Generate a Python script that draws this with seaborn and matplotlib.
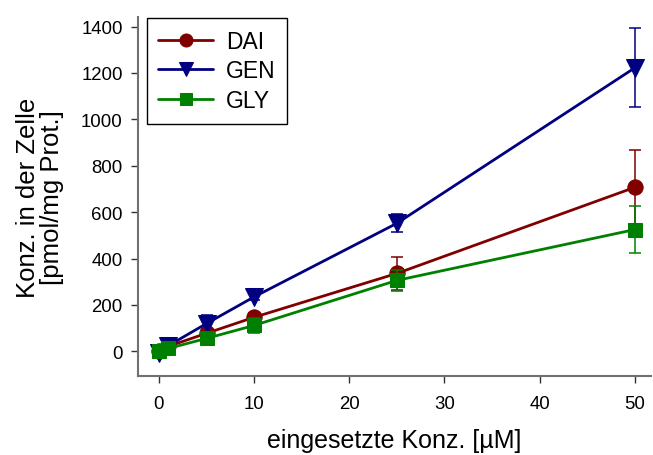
import matplotlib
matplotlib.use("Agg")
import matplotlib.pyplot as plt
import seaborn as sns
import pandas as pd
import numpy as np

# ---- data ----
conc = [0, 1, 5, 10, 25, 50]
series_names = ["DAI", "GEN", "GLY"]
dai_values = [0, 22, 78, 147, 336, 707]
dai_err = [5, 8, 15, 20, 72, 160]
gen_values = [-5, 25, 120, 235, 552, 1222]
gen_err = [8, 8, 35, 15, 38, 170]
gly_values = [0, 13, 56, 112, 306, 525]
gly_err = [5, 6, 12, 32, 45, 100]

x_ticks = [0, 10, 20, 30, 40, 50]
y_ticks = [0, 200, 400, 600, 800, 1000, 1200, 1400]

sns.set_theme(style="ticks")
plt.rcParams["font.family"] = ["Liberation Sans", "DejaVu Sans"]
plt.rcParams["text.color"] = "black"
plt.rcParams["axes.labelcolor"] = "black"
plt.rcParams["xtick.color"] = "#333333"
plt.rcParams["ytick.color"] = "#333333"
plt.rcParams["xtick.labelcolor"] = "black"
plt.rcParams["ytick.labelcolor"] = "black"

values = {"DAI": dai_values, "GEN": gen_values, "GLY": gly_values}
errors = {"DAI": dai_err, "GEN": gen_err, "GLY": gly_err}
colors = {"DAI": "#800000", "GEN": "#000080", "GLY": "#008000"}
markers = {"DAI": "o", "GEN": "v", "GLY": "s"}
msizes = {"DAI": 11, "GEN": 12.5, "GLY": 10}

df = pd.DataFrame({
    "conc": conc * 3,
    "value": dai_values + gen_values + gly_values,
    "series": [s for s in series_names for _ in conc],
})

fig = plt.figure(figsize=(6.53, 4.56), dpi=100)
ax = fig.add_axes([138 / 653, (456 - 377) / 456, (651 - 138) / 653, (377 - 18) / 456])

for i, s in enumerate(series_names):
    sub = df[df["series"] == s]
    ax.errorbar(sub["conc"], sub["value"], yerr=errors[s], fmt="none",
                ecolor=colors[s], elinewidth=1.1, capsize=4, capthick=1.1,
                zorder=2 + i * 3)
    sns.lineplot(data=sub, x="conc", y="value", ax=ax, color=colors[s],
                 marker=markers[s], markersize=msizes[s], markeredgecolor=colors[s],
                 linewidth=2.0, label=s, zorder=3 + i * 3, errorbar=None)

ax.set_xlim(-2.2, 51.7)
ax.set_ylim(-106, 1441)
ax.set_xticks(x_ticks)
ax.set_yticks(y_ticks)
ax.tick_params(axis="both", labelsize=13.4, direction="out", length=5, width=1)
ax.tick_params(axis="x", pad=9)
ax.tick_params(axis="y", pad=6)
for side in ["top", "right"]:
    ax.spines[side].set_visible(False)
for side in ["left", "bottom"]:
    ax.spines[side].set_color("#707070")
    ax.spines[side].set_linewidth(1.5)

ax.set_xlabel("eingesetzte Konz. [µM]", fontsize=18, labelpad=11)
ax.set_ylabel("Konz. in der Zelle\n[pmol/mg Prot.]", fontsize=18.5, labelpad=12,
              linespacing=1.0)

leg = ax.legend(loc="upper left", bbox_to_anchor=(0.0175, 0.997), borderaxespad=0,
                fontsize=16.5, frameon=True, fancybox=False, edgecolor="black",
                framealpha=1, handlelength=2.4, borderpad=0.5, labelspacing=0.3,
                handletextpad=0.55, markerscale=0.85)
leg.get_frame().set_linewidth(1.0)

fig.savefig("out.png", dpi=100)
